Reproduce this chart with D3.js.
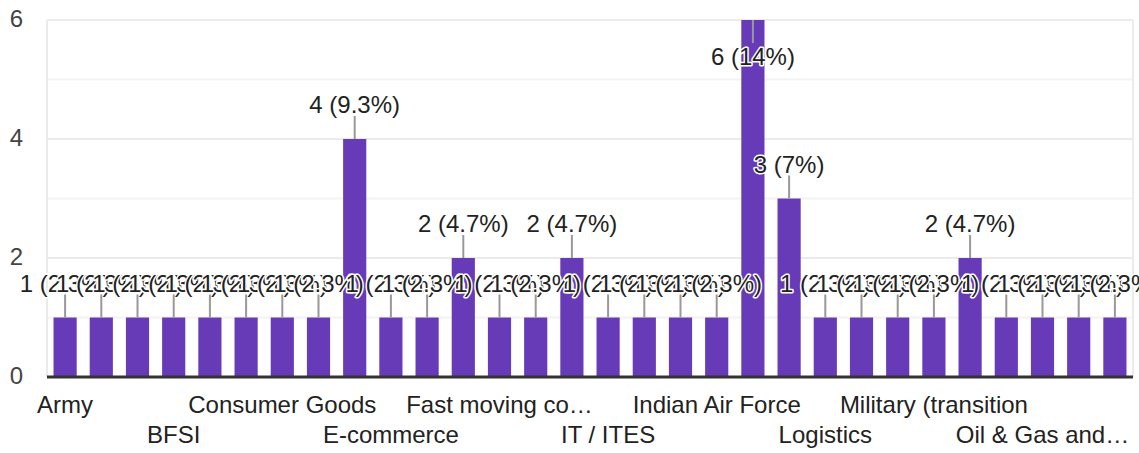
<!DOCTYPE html>
<html>
<head>
<meta charset="utf-8">
<script src="https://cdn.jsdelivr.net/npm/d3@7"></script>
<style>
    body { margin: 0; background: #fff; }
    text { font-family: Arial, "Liberation Sans", sans-serif; }
</style>
</head>
<body>
<div id="chart"></div>
<script>
// Categories (only every third name is shown on the axis)
var categories = [
    "Army", "Automobile", "Aviation", "BFSI", "Banking", "Construction",
    "Consumer Goods", "Defence", "Defence Services", "E-commerce", "Education", "Engineering",
    "Fast moving co\u2026", "Healthcare", "IT", "IT / ITES", "IT Services", "IT consulting",
    "Indian Air Force", "Indian Army", "Indian Navy", "Logistics", "Manufacturing", "Media",
    "Military (transition", "Navy", "None", "Oil & Gas and\u2026", "Pharma", "Retail"
];

// Response counts per category
var counts = [
    1, 1, 1, 1, 1, 1,
    1, 1, 4, 1, 1, 2,
    1, 1, 2, 1, 1, 1,
    1, 6, 3, 1, 1, 1,
    1, 2, 1, 1, 1, 1
];

var yTicks = [0, 2, 4, 6];
var yGrid = [0, 1, 2, 3, 4, 5, 6];

var width = 1139;
var height = 453;
var margin = { left: 47, right: 6, top: 20, bottom: 76 };
var barColor = "#673ab7";

var total = d3.sum(counts);

var svg = d3.select("#chart").append("svg")
    .attr("width", width)
    .attr("height", height);

var x = d3.scaleBand()
    .domain(d3.range(categories.length))
    .range([margin.left, width - margin.right])
    .paddingInner(0.36)
    .paddingOuter(0.18);

var y = d3.scaleLinear()
    .domain([0, 6])
    .range([height - margin.bottom, margin.top]);

// Gridlines, the even ones a bit darker
svg.append("g").selectAll("line")
    .data(yGrid)
    .enter().append("line")
    .attr("x1", margin.left)
    .attr("x2", width - margin.right)
    .attr("y1", function(d) { return y(d); })
    .attr("y2", function(d) { return y(d); })
    .attr("stroke", function(d) { return d % 2 === 0 ? "#ebebeb" : "#f3f3f3"; })
    .attr("stroke-width", 2);

// Left and right border of the chart area
svg.append("g").selectAll("line")
    .data([margin.left, width - margin.right])
    .enter().append("line")
    .attr("x1", function(d) { return d; })
    .attr("x2", function(d) { return d; })
    .attr("y1", y(6))
    .attr("y2", y(0))
    .attr("stroke", "#ebebeb")
    .attr("stroke-width", 2);

// Y tick labels
svg.append("g").selectAll("text")
    .data(yTicks)
    .enter().append("text")
    .attr("x", 23)
    .attr("y", function(d) { return y(d) + 7; })
    .attr("text-anchor", "end")
    .attr("font-size", 24)
    .attr("fill", "#444")
    .text(function(d) { return d; });

// Bars
svg.append("g").selectAll("rect")
    .data(counts)
    .enter().append("rect")
    .attr("x", function(d, i) { return x(i); })
    .attr("width", x.bandwidth())
    .attr("y", function(d) { return y(d); })
    .attr("height", function(d) { return y(0) - y(d); })
    .attr("fill", barColor);

// Baseline
svg.append("line")
    .attr("x1", margin.left)
    .attr("x2", width - margin.right)
    .attr("y1", y(0))
    .attr("y2", y(0))
    .attr("stroke", "#333")
    .attr("stroke-width", 3);

// Category labels, every third one, staggered on two rows
svg.append("g").selectAll("text")
    .data(categories.map(function(c, i) { return { name: c, i: i }; })
        .filter(function(d) { return d.i % 3 === 0; }))
    .enter().append("text")
    .attr("x", function(d) { return x(d.i) + x.bandwidth() / 2; })
    .attr("y", function(d) { return (d.i / 3) % 2 === 0 ? 413 : 443; })
    .attr("text-anchor", "middle")
    .attr("font-size", 24)
    .attr("fill", "#222")
    .text(function(d) { return d.name; });

var pct = function(v) {
    return Math.round(v / total * 1000) / 10;
};

// Annotations: stem plus "n (p%)" label, put inside the bar when no room above
var notes = svg.append("g");
counts.forEach(function(v, i) {
    var cx = x(i) + x.bandwidth() / 2;
    var top = y(v);
    var inside = top - 26 - 18 < 0;
    var stemEnd = inside ? top + 23 : top - 23;
    var baseY = inside ? top + 45 : top - 26;

    notes.append("line")
        .attr("x1", cx)
        .attr("x2", cx)
        .attr("y1", top)
        .attr("y2", stemEnd)
        .attr("stroke", "#999")
        .attr("stroke-width", 2);

    notes.append("text")
        .attr("x", cx)
        .attr("y", baseY)
        .attr("text-anchor", "middle")
        .attr("font-size", 24)
        .attr("fill", "#222")
        .attr("stroke", "#fff")
        .attr("stroke-width", 3)
        .attr("stroke-linejoin", "round")
        .attr("paint-order", "stroke")
        .text(v + " (" + pct(v) + "%)");
});
</script>
</body>
</html>
